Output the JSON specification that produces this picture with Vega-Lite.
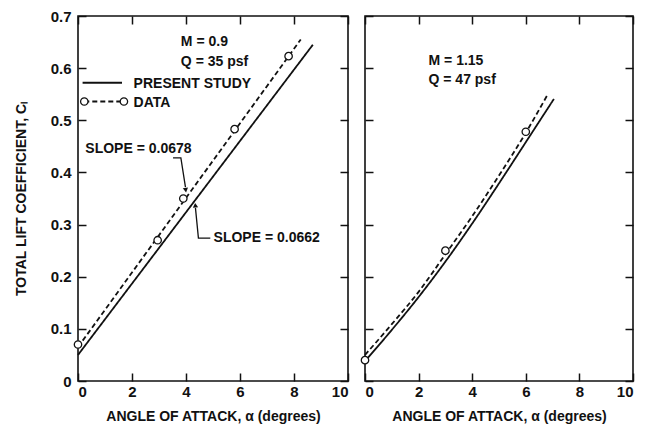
{
  "$schema": "https://vega.github.io/schema/vega-lite/v6.json",
  "background": "white",
  "padding": {"left": 13, "top": 8, "right": 5, "bottom": 2},
  "bounds": "flush",
  "spacing": 17,
  "config": {
    "font": "Liberation Sans",
    "view": {"stroke": "#111", "strokeWidth": 1.6},
    "axis": {
      "grid": false,
      "domain": false,
      "tickColor": "#111",
      "tickWidth": 1.5,
      "tickSize": -8,
      "labelFont": "Liberation Sans",
      "labelFontSize": 15,
      "labelFontWeight": "bold",
      "labelColor": "#111",
      "titleFont": "Liberation Sans",
      "titleFontSize": 14,
      "titleFontWeight": "bold",
      "titleColor": "#111"
    },
    "text": {"font": "Liberation Sans", "fontSize": 14, "fontWeight": "bold", "fill": "#111", "align": "left", "baseline": "middle"}
  },
  "datasets": {
    "m09_lines": [
      {"series": "PRESENT STUDY", "part": "curve", "alpha": 0, "cl": 0.05},
      {"series": "PRESENT STUDY", "part": "curve", "alpha": 8.7, "cl": 0.645},
      {"series": "DATA", "part": "curve", "alpha": 0, "cl": 0.065},
      {"series": "DATA", "part": "curve", "alpha": 8.25, "cl": 0.655},
      {"series": "PRESENT STUDY", "part": "key", "alpha": 0.17, "cl": 0.572},
      {"series": "PRESENT STUDY", "part": "key", "alpha": 1.63, "cl": 0.572},
      {"series": "DATA", "part": "key", "alpha": 0.233, "cl": 0.536},
      {"series": "DATA", "part": "key", "alpha": 1.7, "cl": 0.536}
    ],
    "m09_points": [
      {"part": "measured", "alpha": 0, "cl": 0.07},
      {"part": "measured", "alpha": 2.95, "cl": 0.27},
      {"part": "measured", "alpha": 3.9, "cl": 0.35},
      {"part": "measured", "alpha": 5.8, "cl": 0.483},
      {"part": "measured", "alpha": 7.8, "cl": 0.623},
      {"part": "key", "alpha": 0.233, "cl": 0.536},
      {"part": "key", "alpha": 1.7, "cl": 0.536}
    ],
    "m09_leaders": [
      {"leader": "0.0678", "alpha": 3.52, "cl": 0.428},
      {"leader": "0.0678", "alpha": 3.81, "cl": 0.428},
      {"leader": "0.0678", "alpha": 3.98, "cl": 0.372},
      {"leader": "0.0662", "alpha": 4.35, "cl": 0.332},
      {"leader": "0.0662", "alpha": 4.46, "cl": 0.274},
      {"leader": "0.0662", "alpha": 4.9, "cl": 0.274}
    ],
    "m09_notes": [
      {"note": "M = 0.9", "alpha": 3.81, "cl": 0.65},
      {"note": "Q = 35 psf", "alpha": 3.81, "cl": 0.611},
      {"note": "PRESENT STUDY", "alpha": 2.06, "cl": 0.569},
      {"note": "DATA", "alpha": 2.06, "cl": 0.534},
      {"note": "SLOPE = 0.0678", "alpha": 0.27, "cl": 0.445},
      {"note": "SLOPE = 0.0662", "alpha": 5.02, "cl": 0.274}
    ],
    "m115_lines": [
      {"series": "PRESENT STUDY", "alpha": 0, "cl": 0.038},
      {"series": "PRESENT STUDY", "alpha": 1, "cl": 0.098},
      {"series": "PRESENT STUDY", "alpha": 2, "cl": 0.161},
      {"series": "PRESENT STUDY", "alpha": 3, "cl": 0.229},
      {"series": "PRESENT STUDY", "alpha": 4, "cl": 0.302},
      {"series": "PRESENT STUDY", "alpha": 5, "cl": 0.379},
      {"series": "PRESENT STUDY", "alpha": 6, "cl": 0.458},
      {"series": "PRESENT STUDY", "alpha": 7.05, "cl": 0.541},
      {"series": "DATA", "alpha": 0, "cl": 0.05},
      {"series": "DATA", "alpha": 1, "cl": 0.109},
      {"series": "DATA", "alpha": 2, "cl": 0.171},
      {"series": "DATA", "alpha": 3, "cl": 0.243},
      {"series": "DATA", "alpha": 4, "cl": 0.316},
      {"series": "DATA", "alpha": 5, "cl": 0.394},
      {"series": "DATA", "alpha": 6, "cl": 0.476},
      {"series": "DATA", "alpha": 6.8, "cl": 0.548}
    ],
    "m115_points": [
      {"alpha": 0, "cl": 0.04},
      {"alpha": 3, "cl": 0.25},
      {"alpha": 6, "cl": 0.478}
    ],
    "m115_notes": [
      {"note": "M = 1.15", "alpha": 2.37, "cl": 0.614},
      {"note": "Q = 47 psf", "alpha": 2.37, "cl": 0.577}
    ]
  },
  "hconcat": [
    {
      "width": 270,
      "height": 365,
      "resolve": {"axis": {"x": "independent", "y": "independent"}},
      "layer": [
        {
          "data": {"name": "m09_lines"},
          "mark": {"type": "line", "stroke": "#111", "strokeWidth": 1.8},
          "encoding": {
            "x": {
              "field": "alpha", "type": "quantitative",
              "scale": {"domain": [0, 10], "nice": false},
              "axis": {"orient": "bottom", "values": [0, 2, 4, 6, 8, 10], "format": "d", "labelPadding": 11, "title": "ANGLE OF ATTACK, α (degrees)", "titlePadding": 10}
            },
            "y": {
              "field": "cl", "type": "quantitative",
              "scale": {"domain": [0, 0.7], "nice": false},
              "axis": {"orient": "left", "values": [0, 0.1, 0.2, 0.3, 0.4, 0.5, 0.6, 0.7], "labelExpr": "datum.value === 0 ? '0' : format(datum.value, '.1f')", "labelPadding": 15, "title": "TOTAL LIFT COEFFICIENT, Cₗ", "titlePadding": 22}
            },
            "strokeDash": {"field": "series", "type": "nominal", "scale": {"domain": ["PRESENT STUDY", "DATA"], "range": [[1, 0], [5, 3]]}, "legend": null},
            "detail": {"field": "part"}
          }
        },
        {
          "data": {"name": "m09_points"},
          "mark": {"type": "point", "shape": "circle", "filled": true, "fill": "white", "stroke": "#111", "strokeWidth": 1.3, "size": 55, "opacity": 1},
          "encoding": {
            "x": {"field": "alpha", "type": "quantitative", "axis": {"orient": "top", "values": [0, 2, 4, 6, 8, 10], "labels": false, "title": null}},
            "y": {"field": "cl", "type": "quantitative", "axis": {"orient": "right", "values": [0, 0.1, 0.2, 0.3, 0.4, 0.5, 0.6, 0.7], "labels": false, "title": null}}
          }
        },
        {
          "data": {"name": "m09_leaders"},
          "mark": {"type": "line", "stroke": "#111", "strokeWidth": 1.3},
          "encoding": {
            "x": {"field": "alpha", "type": "quantitative", "axis": null},
            "y": {"field": "cl", "type": "quantitative", "axis": null},
            "detail": {"field": "leader"}
          }
        },
        {
          "data": {"values": [{"alpha": 3.99, "cl": 0.366}]},
          "mark": {"type": "point", "shape": "triangle-down", "filled": true, "fill": "#111", "size": 28, "opacity": 1, "angle": 351},
          "encoding": {
            "x": {"field": "alpha", "type": "quantitative", "axis": null},
            "y": {"field": "cl", "type": "quantitative", "axis": null}
          }
        },
        {
          "data": {"values": [{"alpha": 4.345, "cl": 0.337}]},
          "mark": {"type": "point", "shape": "triangle-up", "filled": true, "fill": "#111", "size": 28, "opacity": 1, "angle": 355},
          "encoding": {
            "x": {"field": "alpha", "type": "quantitative", "axis": null},
            "y": {"field": "cl", "type": "quantitative", "axis": null}
          }
        },
        {
          "data": {"name": "m09_notes"},
          "mark": {"type": "text"},
          "encoding": {
            "x": {"field": "alpha", "type": "quantitative", "axis": null},
            "y": {"field": "cl", "type": "quantitative", "axis": null},
            "text": {"field": "note"}
          }
        }
      ]
    },
    {
      "width": 268,
      "height": 365,
      "resolve": {"axis": {"x": "independent", "y": "independent"}},
      "layer": [
        {
          "data": {"name": "m115_lines"},
          "mark": {"type": "line", "stroke": "#111", "strokeWidth": 1.8, "interpolate": "monotone"},
          "encoding": {
            "x": {
              "field": "alpha", "type": "quantitative",
              "scale": {"domain": [0, 10], "nice": false},
              "axis": {"orient": "bottom", "values": [0, 2, 4, 6, 8, 10], "format": "d", "labelPadding": 11, "title": "ANGLE OF ATTACK, α (degrees)", "titlePadding": 10}
            },
            "y": {
              "field": "cl", "type": "quantitative",
              "scale": {"domain": [0, 0.7], "nice": false},
              "axis": {"orient": "left", "values": [0, 0.1, 0.2, 0.3, 0.4, 0.5, 0.6, 0.7], "labels": false, "title": null}
            },
            "strokeDash": {"field": "series", "type": "nominal", "scale": {"domain": ["PRESENT STUDY", "DATA"], "range": [[1, 0], [5, 3]]}, "legend": null}
          }
        },
        {
          "data": {"name": "m115_points"},
          "mark": {"type": "point", "shape": "circle", "filled": true, "fill": "white", "stroke": "#111", "strokeWidth": 1.3, "size": 55, "opacity": 1},
          "encoding": {
            "x": {"field": "alpha", "type": "quantitative", "axis": {"orient": "top", "values": [0, 2, 4, 6, 8, 10], "labels": false, "title": null}},
            "y": {"field": "cl", "type": "quantitative", "axis": {"orient": "right", "values": [0, 0.1, 0.2, 0.3, 0.4, 0.5, 0.6, 0.7], "labels": false, "title": null}}
          }
        },
        {
          "data": {"name": "m115_notes"},
          "mark": {"type": "text"},
          "encoding": {
            "x": {"field": "alpha", "type": "quantitative", "axis": null},
            "y": {"field": "cl", "type": "quantitative", "axis": null},
            "text": {"field": "note"}
          }
        }
      ]
    }
  ]
}
